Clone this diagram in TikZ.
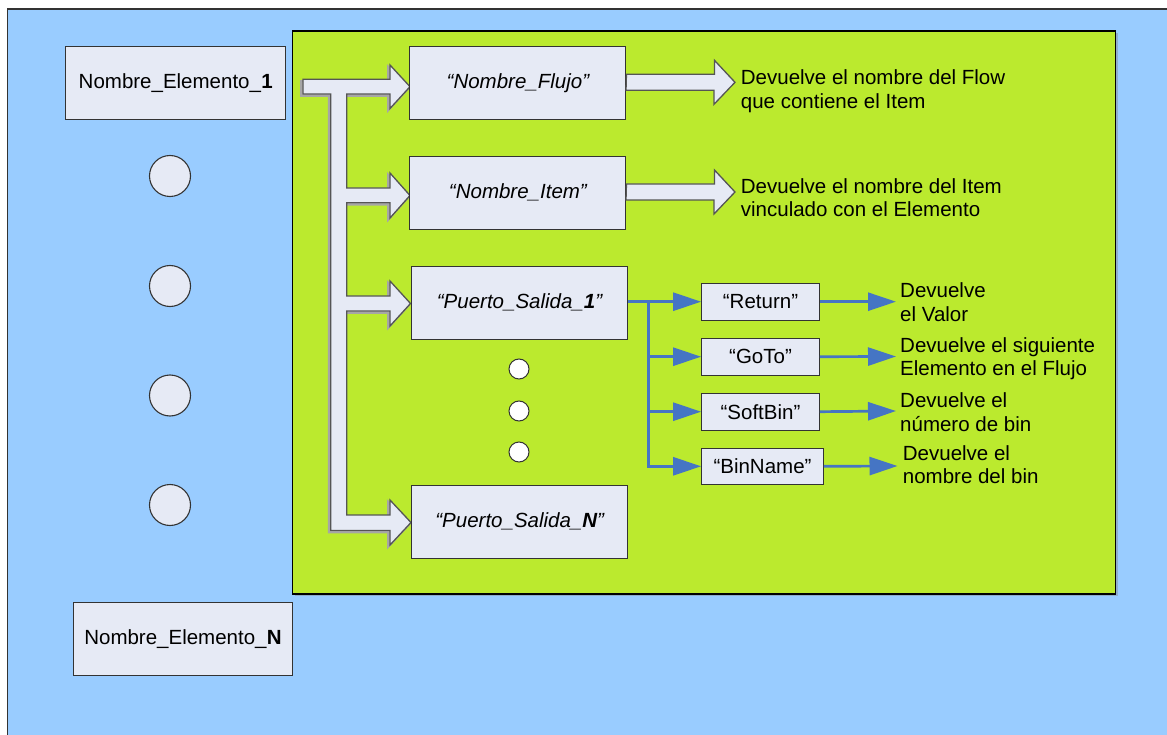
\documentclass[tikz,border=0pt]{standalone}
\usepackage{fontspec}
\setmainfont{Liberation Sans}
\usetikzlibrary{calc,arrows.meta}
\definecolor{bgblue}{HTML}{99CCFF}
\definecolor{leaf}{HTML}{BBEA2E}
\definecolor{boxfill}{HTML}{E6EAF5}
\definecolor{linkblue}{HTML}{4575C4}
\definecolor{edge}{HTML}{333333}
\definecolor{hollowedge}{HTML}{555555}
\begin{document}
\begin{tikzpicture}[x=1pt,y=-1pt,
  every node/.style={font=\fontsize{20.5}{23.5}\selectfont, inner sep=0pt},
  namebox/.style={draw=edge, line width=1.1pt, fill=boxfill, minimum width=220pt, minimum height=73pt},
  fieldbox/.style={draw=edge, line width=1.1pt, fill=boxfill, minimum width=216pt, minimum height=73pt, font=\fontsize{20.5}{23.5}\selectfont\itshape},
  keybox/.style={draw=edge, line width=1.1pt, fill=boxfill, minimum width=118pt, minimum height=37pt},
  bigdot/.style={circle, draw=edge, line width=1.1pt, fill=boxfill, minimum size=41pt},
  smalldot/.style={circle, draw=edge, line width=1pt, fill=white, minimum size=20pt},
  note/.style={anchor=base west, align=left},
  link/.style={draw=linkblue, line width=2.7pt, -{Triangle[length=28pt,width=18pt]}},
  hollow/.style={draw=hollowedge, line width=1.3pt, fill=boxfill, line join=miter},
  hollowshade/.style={draw=gray!70, line width=2pt, fill=gray!50},
]
\useasboundingbox (0,0) rectangle (1167,735);

% outer and inner panels
\fill[bgblue] (7.3,9) rectangle (1175,745);
\draw[edge, line width=1.2pt] (7.3,745) -- (7.3,9) -- (1175,9);
\fill[gray!40!bgblue] (294.5,33) rectangle (1117.5,595.5);
\draw[black, line width=1.3pt, fill=leaf] (292.7,31) rectangle (1115.7,594);

% element boxes and placeholder circles
\node[namebox] (e1) at (175.7,83) {Nombre\_Elemento\_\textbf{1}};
\node[namebox, minimum width=219pt] (eN) at (183,639) {Nombre\_Elemento\_\textbf{N}};
\node[bigdot] (c1) at (170,176) {};
\node[bigdot] (c2) at (170,286) {};
\node[bigdot] (c3) at (170,395.5) {};
\node[bigdot] (c4) at (170,505) {};

% branching block arrow feeding the field boxes
\def\branchshape{(303,79.3) -- (390,79.3) -- (390,65) -- (410,86.7) -- (390,108.5) -- (390,94)
  -- (346.7,94) -- (346.7,188) -- (390,188) -- (390,173) -- (410,195.5) -- (390,218) -- (390,202.8)
  -- (346.7,202.8) -- (346.7,296) -- (390,296) -- (390,281) -- (410.5,303.5) -- (390,326) -- (390,311)
  -- (346.7,311) -- (346.7,515) -- (390,515) -- (390,500) -- (411,522.5) -- (390,545) -- (390,530.5)
  -- (330.7,530.5) -- (330.7,94) -- (303,94) -- cycle}
\begin{scope}[shift={(-1.8,1.8)}]
  \path[hollowshade] \branchshape;
\end{scope}
\path[hollow] \branchshape;

% field boxes
\node[fieldbox] (flujo) at (517.9,83) {“Nombre\_Flujo”};
\node[fieldbox] (item) at (517.9,192.7) {“Nombre\_Item”};
\node[fieldbox, minimum width=215.6pt] (p1) at (519.5,302.7) {“Puerto\_Salida\_\textbf{1}”};
\node[fieldbox] (pN) at (519.7,521.7) {“Puerto\_Salida\_\textbf{N}”};
\node[smalldot] (d1) at (519,369) {};
\node[smalldot] (d2) at (519,411) {};
\node[smalldot] (d3) at (519,452) {};

% hollow arrows to the descriptions
\coordinate (tf) at (735,82.3);
\coordinate (ti) at (735,192);
\path[hollow] ($(flujo.east |- tf)+(0,-8)$) -- ++(88,0) -- ++(0,-14) -- (tf) -- ++(-21,22) -- ++(0,-14) -- ++(-88,0) -- cycle;
\path[hollow] ($(item.east |- ti)+(0,-8)$) -- ++(88,0) -- ++(0,-14) -- (ti) -- ++(-21,22) -- ++(0,-14) -- ++(-88,0) -- cycle;
% note nodes sit on the baseline of their second line
\node[note] (nf) at ($(tf)+(5.7,26.2)$) {Devuelve el nombre del Flow\\que contiene el Item};
\node[note] (ni) at ($(ti)+(5.7,24.8)$) {Devuelve el nombre del Item\\vinculado con el Elemento};

% port value keys
\node[keybox, minimum width=117.6pt] (ret) at (760.5,301.7) {“Return”};
\node[keybox, minimum width=117.6pt] (goto) at (760.5,356.7) {“GoTo”};
\node[keybox, minimum width=117.6pt] (soft) at (760.5,411.7) {“SoftBin”};
\node[keybox, minimum width=121.6pt, minimum height=36pt] (bin) at (762.5,466.3) {“BinName”};

\coordinate (split) at (648.3,301.7);
\draw[link] (p1.east |- ret.west) -- (ret.west);
\draw[link] (split) |- (goto.west);
\draw[link] (split) |- (soft.west);
\draw[link] (split) |- (bin.west);

% descriptions of the port values
\coordinate (tr) at (896,301.7);
\coordinate (tg) at (896,356.5);
\coordinate (ts) at (896,411);
\coordinate (tb) at (897.5,466);
\draw[link] (ret.east) -- (tr);
\draw[link] (goto.east) -- (tg);
\draw[link] (soft.east) -- (ts);
\draw[link] (bin.east) -- (tb);
\node[note] (nr) at ($(tr)+(4,19.5)$) {Devuelve\\el Valor};
\node[note] (ng) at ($(tg)+(4,19)$) {Devuelve el siguiente\\Elemento en el Flujo};
\node[note] (ns) at ($(ts)+(4,20)$) {Devuelve el\\número de bin};
\node[note] (nb) at ($(tb)+(5.2,17.5)$) {Devuelve el\\nombre del bin};
\end{tikzpicture}
\end{document}
